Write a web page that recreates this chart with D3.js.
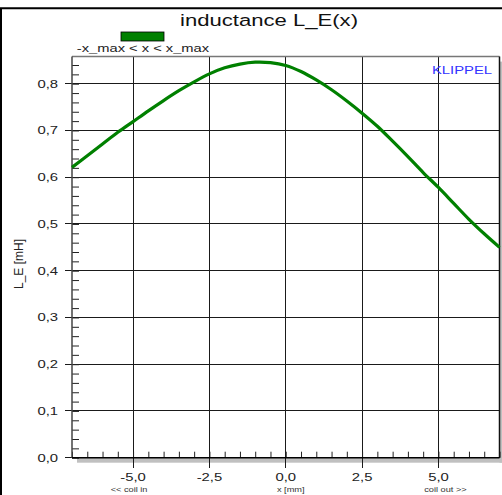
<!DOCTYPE html>
<html>
<head>
<meta charset="utf-8">
<script src="https://cdn.jsdelivr.net/npm/d3@7"></script>
<style>
  body { margin: 0; background: #fff; }
  svg { display: block; font-family: "Liberation Sans", Arial, sans-serif; }
</style>
</head>
<body>
<svg id="chart" width="502" height="495"></svg>
<script>
// Voice-coil displacement x in mm, sampled every 0.5 mm
const displacement = [-7, -6.5, -6, -5.5, -5, -4.5, -4, -3.5, -3, -2.5, -2, -1.5, -1, -0.5,
  0, 0.5, 1, 1.5, 2, 2.5, 3, 3.5, 4, 4.5, 5, 5.5, 6, 6.5, 7];
// Inductance L_E(x) in mH
const inductance = [0.621, 0.646, 0.671, 0.696, 0.719, 0.742, 0.764, 0.785, 0.804, 0.821, 0.834,
  0.842, 0.846, 0.845, 0.839, 0.826, 0.808, 0.787, 0.763, 0.737, 0.709, 0.677, 0.644, 0.610,
  0.578, 0.544, 0.510, 0.479, 0.450];

const xMajorTicks = [-5, -2.5, 0, 2.5, 5];
const xTickLabels = ["-5,0", "-2,5", "0,0", "2,5", "5,0"];
const xSubLabels = ["<< coil in", "x [mm]", "coil out >>"];
const xSubLabelAt = [-5, 0, 5];
const yMajorTicks = [0, 0.1, 0.2, 0.3, 0.4, 0.5, 0.6, 0.7, 0.8];
const yTickLabels = ["0,0", "0,1", "0,2", "0,3", "0,4", "0,5", "0,6", "0,7", "0,8"];

const titleText = "inductance L_E(x)";
const legendText = "-x_max < x < x_max";
const yAxisTitle = "L_E [mH]";
const brandText = "KLIPPEL";

const svg = d3.select("#chart");
const W = 502, H = 495;
const plot = { left: 72, right: 499.5, top: 56.6, bottom: 457.7 };

const x = d3.scaleLinear().domain([-7, 7]).range([plot.left, plot.right]);
const y = d3.scaleLinear().domain([0, 0.858]).range([plot.bottom, plot.top]);

// Outer frame
svg.append("rect").attr("width", W).attr("height", H).attr("fill", "#fff");
svg.append("path")
  .attr("d", `M1,${H + 5} V8.3 H${W + 5}`)
  .attr("fill", "none").attr("stroke", "#000").attr("stroke-width", 2);

// Drop shadow of the plot panel
svg.append("rect")
  .attr("x", plot.left + 5).attr("y", plot.bottom)
  .attr("width", W - plot.left).attr("height", 5)
  .attr("fill", "#c0c0c0");
svg.append("rect")
  .attr("x", plot.right).attr("y", plot.top + 5)
  .attr("width", 5).attr("height", plot.bottom - plot.top)
  .attr("fill", "#c0c0c0");

// Plot background
svg.append("rect")
  .attr("x", plot.left).attr("y", plot.top)
  .attr("width", plot.right - plot.left).attr("height", plot.bottom - plot.top)
  .attr("fill", "#fff");

// Grid
const grid = svg.append("g").attr("stroke", "#1a1a1a").attr("stroke-width", 1).attr("shape-rendering", "crispEdges");
grid.selectAll("line.gx").data(xMajorTicks).join("line")
  .attr("x1", d => x(d)).attr("x2", d => x(d))
  .attr("y1", plot.top).attr("y2", plot.bottom + 10);
grid.selectAll("line.gy").data(yMajorTicks).join("line")
  .attr("x1", plot.left - 7).attr("x2", plot.right)
  .attr("y1", d => y(d)).attr("y2", d => y(d));

// Minor ticks (inside the panel)
const xMinor = d3.range(-7, 7.001, 0.5);
const yMinor = d3.range(0, 0.8581, 0.02);
svg.append("g")
  .attr("transform", `translate(0,${plot.bottom})`)
  .call(d3.axisTop(x).tickValues(xMinor).tickSize(6).tickFormat(""))
  .call(g => g.select(".domain").remove())
  .call(g => g.selectAll("line").attr("stroke", "#222"));
svg.append("g")
  .attr("transform", `translate(${plot.left},0)`)
  .call(d3.axisRight(y).tickValues(yMinor).tickSize(7).tickFormat(""))
  .call(g => g.select(".domain").remove())
  .call(g => g.selectAll("line").attr("stroke", "#222"));

// Panel border
svg.append("line").attr("x1", plot.left).attr("x2", plot.right)
  .attr("y1", plot.top).attr("y2", plot.top).attr("stroke", "#777").attr("stroke-width", 1.5);
svg.append("line").attr("x1", plot.right).attr("x2", plot.right)
  .attr("y1", plot.top).attr("y2", plot.bottom).attr("stroke", "#111").attr("stroke-width", 1.5);
svg.append("line").attr("x1", plot.left).attr("x2", plot.left)
  .attr("y1", plot.top).attr("y2", plot.bottom).attr("stroke", "#444").attr("stroke-width", 1.5);
svg.append("line").attr("x1", plot.left).attr("x2", plot.right)
  .attr("y1", plot.bottom).attr("y2", plot.bottom).attr("stroke", "#000").attr("stroke-width", 1.5);

// Curve
const line = d3.line().x(d => x(d[0])).y(d => y(d[1])).curve(d3.curveCatmullRom.alpha(0.5));
svg.append("path")
  .datum(d3.zip(displacement, inductance))
  .attr("d", line)
  .attr("fill", "none").attr("stroke", "#008000").attr("stroke-width", 3.2)
  .attr("stroke-linejoin", "round");

// Text helper: horizontally widened glyphs
function label(parent, tx, ty, text, size, sx, anchor, fill) {
  return parent.append("text")
    .attr("transform", `translate(${tx},${ty}) scale(${sx},1)`)
    .attr("text-anchor", anchor).attr("font-size", size)
    .attr("fill", fill || "#222").text(text);
}

// Tick labels
const xl = svg.append("g");
xMajorTicks.forEach((v, i) => label(xl, x(v), 481, xTickLabels[i], 11, 1.35, "middle"));
const subShift = [-4, 5, 7];
xSubLabelAt.forEach((v, i) => label(xl, x(v) + subShift[i], 491.5, xSubLabels[i], 8, 1.15, "middle", "#333"));
const yl = svg.append("g");
yMajorTicks.forEach((v, i) => label(yl, 58, y(v) + 4, yTickLabels[i], 11, 1.35, "end"));

// Axis title
svg.append("text")
  .attr("transform", `translate(23,264) rotate(-90)`)
  .attr("text-anchor", "middle").attr("font-size", 12).attr("fill", "#222")
  .text(yAxisTitle);

// Title, legend, brand
label(svg, 269, 26, titleText, 17, 1.3, "middle", "#111");
svg.append("rect").attr("x", 121).attr("y", 32).attr("width", 43).attr("height", 9)
  .attr("fill", "#008000").attr("stroke", "#000").attr("stroke-width", 0.8);
label(svg, 143, 52, legendText, 10.5, 1.4, "middle", "#222");
label(svg, 462, 74, brandText, 11, 1.35, "middle", "#3333ff");
</script>
</body>
</html>
